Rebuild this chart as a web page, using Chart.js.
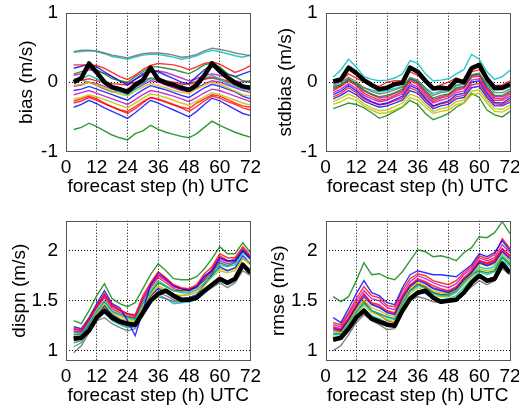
<!DOCTYPE html>
<html><head><meta charset="utf-8">
<script src="https://cdn.jsdelivr.net/npm/chart.js@4"></script>
<style>
html,body{margin:0;padding:0;background:#fff;}
#wrap{position:relative;width:519px;height:408px;overflow:hidden;background:#fff;}
canvas{position:absolute;left:0;top:0;}
</style></head><body>
<div id="wrap">
<canvas id="c1" width="519" height="408"></canvas>
<canvas id="c2" width="519" height="408"></canvas>
<canvas id="c3" width="519" height="408"></canvas>
<canvas id="c4" width="519" height="408"></canvas>
</div>
<script>
// forecast steps (h)
const steps = [3,6,9,12,15,18,21,24,27,30,33,36,39,42,45,48,51,54,57,60,63,66,69,72];
const xTicks = [0,12,24,36,48,60,72];
const topYTicks = [-1,0,1];
const botYTicks = [1,1.5,2];
const xTitle = 'forecast step (h) UTC';

const palette = {b:'rgba(0,0,255,0.8)', g:'rgba(0,128,0,0.8)', r:'rgba(255,0,0,0.8)', c:'rgba(0,191,191,0.85)', m:'rgba(191,0,191,0.8)', y:'rgba(191,191,0,0.85)', k:'rgba(110,110,110,0.85)'};

// ---- bias ----
const biasMean = [0.00,0.06,0.27,0.14,0.00,-0.07,-0.10,-0.14,-0.04,0.03,0.21,0.04,-0.01,-0.04,-0.08,-0.11,-0.04,0.10,0.27,0.16,0.07,-0.01,-0.06,-0.08];
const biasColors = ['k','c','r','g','b','m','c','r','y','b','m','y','r','b','g','k','r','m'];
const biasMembers = [
[0.44,0.46,0.46,0.45,0.42,0.39,0.37,0.35,0.38,0.41,0.42,0.42,0.41,0.39,0.36,0.37,0.40,0.45,0.49,0.47,0.45,0.42,0.40,0.38],
[0.43,0.44,0.45,0.44,0.41,0.37,0.35,0.33,0.36,0.39,0.40,0.40,0.38,0.36,0.33,0.35,0.38,0.43,0.46,0.44,0.41,0.38,0.36,0.39],
[0.25,0.25,0.25,0.24,0.20,0.14,0.08,0.04,0.10,0.18,0.24,0.27,0.26,0.25,0.22,0.18,0.22,0.27,0.29,0.26,0.20,0.14,0.18,0.24],
[0.12,0.15,0.20,0.18,0.12,0.05,0.02,0.00,0.08,0.15,0.22,0.22,0.20,0.18,0.15,0.12,0.18,0.25,0.28,0.22,0.12,0.08,0.02,0.00],
[0.20,0.23,0.26,0.22,0.15,0.08,0.02,-0.04,0.04,0.12,0.18,0.15,0.10,0.05,0.00,-0.02,0.08,0.18,0.25,0.20,0.12,0.08,0.12,0.16],
[0.10,0.12,0.18,0.16,0.13,0.08,0.02,-0.02,0.04,0.10,0.15,0.16,0.14,0.10,0.06,0.02,0.05,0.10,0.12,0.10,0.06,0.02,0.00,0.02],
[0.03,0.05,0.10,0.05,-0.02,-0.10,-0.14,-0.18,-0.10,-0.02,0.06,0.05,0.02,-0.02,-0.08,-0.10,-0.02,0.06,0.10,0.05,-0.02,-0.06,-0.10,-0.12],
[0.02,0.03,0.05,0.02,0.00,-0.02,-0.03,-0.04,0.00,0.03,0.06,0.04,0.02,0.00,-0.02,-0.03,0.00,0.04,0.07,0.05,0.02,-0.02,-0.05,-0.06],
[-0.05,-0.03,0.00,-0.04,-0.08,-0.13,-0.17,-0.20,-0.13,-0.07,-0.02,-0.05,-0.08,-0.12,-0.15,-0.16,-0.10,-0.04,0.00,-0.03,-0.08,-0.13,-0.18,-0.20],
[-0.12,-0.10,-0.06,-0.10,-0.14,-0.18,-0.22,-0.26,-0.18,-0.11,-0.05,-0.08,-0.11,-0.15,-0.19,-0.22,-0.15,-0.08,-0.03,-0.06,-0.10,-0.14,-0.20,-0.24],
[-0.18,-0.15,-0.12,-0.16,-0.20,-0.24,-0.28,-0.32,-0.25,-0.18,-0.12,-0.14,-0.17,-0.20,-0.24,-0.28,-0.22,-0.15,-0.10,-0.12,-0.16,-0.20,-0.24,-0.28],
[-0.24,-0.22,-0.18,-0.21,-0.25,-0.29,-0.33,-0.37,-0.30,-0.23,-0.17,-0.19,-0.22,-0.26,-0.30,-0.33,-0.27,-0.21,-0.15,-0.18,-0.22,-0.26,-0.30,-0.33],
[-0.30,-0.27,-0.22,-0.26,-0.31,-0.36,-0.40,-0.45,-0.38,-0.30,-0.22,-0.25,-0.29,-0.33,-0.37,-0.42,-0.35,-0.27,-0.20,-0.23,-0.28,-0.32,-0.37,-0.40],
[-0.36,-0.32,-0.26,-0.31,-0.37,-0.42,-0.47,-0.52,-0.44,-0.35,-0.26,-0.30,-0.35,-0.40,-0.45,-0.50,-0.42,-0.32,-0.23,-0.27,-0.33,-0.39,-0.45,-0.48],
[-0.68,-0.65,-0.59,-0.64,-0.70,-0.76,-0.80,-0.83,-0.74,-0.70,-0.62,-0.68,-0.72,-0.75,-0.78,-0.80,-0.74,-0.65,-0.56,-0.62,-0.67,-0.72,-0.76,-0.79],
[0.05,0.03,0.00,-0.05,-0.10,-0.14,-0.12,-0.10,-0.05,0.00,0.05,0.02,-0.02,-0.06,-0.04,-0.02,0.02,0.05,0.06,0.03,0.00,-0.04,-0.08,-0.10],
[-0.27,-0.24,-0.20,-0.24,-0.30,-0.35,-0.40,-0.42,-0.35,-0.28,-0.22,-0.24,-0.28,-0.32,-0.36,-0.38,-0.30,-0.24,-0.18,-0.20,-0.25,-0.30,-0.34,-0.36],
[-0.06,-0.04,0.00,-0.02,-0.06,-0.10,-0.14,-0.16,-0.10,-0.04,0.02,0.00,-0.04,-0.08,-0.12,-0.14,-0.08,-0.02,0.02,0.00,-0.04,-0.08,-0.12,-0.15]
];

// ---- stdbias ----
const stdbiasMean = [0.01,0.04,0.21,0.13,0.03,-0.04,-0.10,-0.08,-0.03,-0.01,0.21,0.15,0.02,-0.09,-0.08,-0.09,0.03,0.00,0.20,0.25,0.05,-0.08,-0.08,-0.03];
const stdbiasColors = ['c','k','g','r','m','b','r','b','y','y','r','c','m','g'];
const stdbiasMembers = [
[0.07,0.18,0.33,0.22,0.08,0.04,0.02,0.03,0.06,0.12,0.31,0.27,0.12,0.02,0.03,0.05,0.12,0.18,0.40,0.33,0.15,0.04,0.08,0.17],
[-0.05,0.00,0.07,0.01,-0.08,-0.13,-0.17,-0.15,-0.11,-0.07,0.07,0.03,-0.09,-0.19,-0.15,-0.13,-0.05,-0.03,0.11,0.13,-0.03,-0.15,-0.15,-0.10],
[-0.08,-0.03,0.05,-0.02,-0.11,-0.17,-0.21,-0.19,-0.15,-0.10,0.05,0.01,-0.12,-0.23,-0.19,-0.17,-0.08,-0.06,0.10,0.12,-0.06,-0.19,-0.19,-0.13],
[-0.12,-0.06,0.02,-0.05,-0.16,-0.21,-0.26,-0.24,-0.19,-0.14,0.02,-0.03,-0.17,-0.28,-0.23,-0.20,-0.12,-0.09,0.07,0.09,-0.10,-0.23,-0.24,-0.17],
[-0.15,-0.10,-0.02,-0.09,-0.19,-0.24,-0.28,-0.26,-0.21,-0.17,-0.02,-0.07,-0.20,-0.30,-0.26,-0.23,-0.15,-0.13,0.03,0.05,-0.13,-0.26,-0.26,-0.20],
[-0.18,-0.13,-0.05,-0.12,-0.22,-0.28,-0.32,-0.30,-0.25,-0.20,-0.05,-0.10,-0.23,-0.34,-0.30,-0.27,-0.18,-0.16,0.00,0.02,-0.16,-0.29,-0.30,-0.23],
[-0.21,-0.16,-0.08,-0.15,-0.24,-0.29,-0.33,-0.31,-0.27,-0.23,-0.08,-0.13,-0.25,-0.35,-0.31,-0.29,-0.21,-0.19,-0.04,-0.02,-0.19,-0.31,-0.32,-0.26],
[-0.24,-0.19,-0.12,-0.18,-0.27,-0.32,-0.36,-0.34,-0.30,-0.26,-0.12,-0.16,-0.28,-0.38,-0.34,-0.32,-0.24,-0.22,-0.08,-0.06,-0.22,-0.34,-0.34,-0.29],
[-0.28,-0.23,-0.17,-0.22,-0.31,-0.37,-0.41,-0.40,-0.35,-0.30,-0.17,-0.21,-0.32,-0.42,-0.38,-0.36,-0.28,-0.26,-0.13,-0.11,-0.26,-0.38,-0.39,-0.33],
[-0.32,-0.28,-0.22,-0.26,-0.34,-0.40,-0.45,-0.44,-0.40,-0.35,-0.22,-0.26,-0.36,-0.45,-0.42,-0.40,-0.32,-0.30,-0.18,-0.16,-0.30,-0.42,-0.43,-0.37],
[-0.02,0.02,0.12,0.06,0.00,-0.04,-0.06,0.00,0.02,0.02,0.15,0.10,0.00,-0.08,-0.04,0.00,0.06,0.02,0.15,0.18,0.03,-0.05,-0.04,0.02],
[-0.06,-0.04,0.03,-0.02,-0.08,-0.11,-0.14,-0.12,-0.09,-0.06,0.06,0.02,-0.08,-0.16,-0.13,-0.10,-0.04,-0.02,0.10,0.12,-0.02,-0.12,-0.11,-0.07],
[-0.10,-0.05,0.04,-0.03,-0.13,-0.18,-0.23,-0.21,-0.16,-0.12,0.04,-0.01,-0.14,-0.25,-0.21,-0.18,-0.10,-0.07,0.09,0.11,-0.08,-0.21,-0.21,-0.15],
[-0.38,-0.34,-0.30,-0.32,-0.37,-0.44,-0.52,-0.48,-0.42,-0.36,-0.26,-0.32,-0.45,-0.54,-0.50,-0.45,-0.36,-0.30,-0.16,-0.22,-0.40,-0.47,-0.50,-0.42]
];

// ---- dispn ----
const dispnMean = [1.12,1.13,1.20,1.33,1.40,1.33,1.29,1.27,1.26,1.38,1.50,1.57,1.60,1.55,1.51,1.51,1.53,1.60,1.66,1.72,1.68,1.72,1.86,1.78];
const dispnColors = ['g','r','b','m','c','y','k','g','r','b','c','m','y','k'];
const dispnMembers = [
[1.30,1.27,1.40,1.55,1.67,1.52,1.47,1.44,1.48,1.62,1.76,1.87,1.80,1.72,1.71,1.71,1.74,1.82,1.92,2.04,1.97,1.97,2.08,1.98],
[1.22,1.21,1.32,1.45,1.57,1.46,1.41,1.37,1.36,1.55,1.68,1.79,1.73,1.66,1.63,1.62,1.66,1.77,1.84,1.97,1.93,1.93,2.04,1.95],
[1.24,1.22,1.33,1.47,1.60,1.47,1.43,1.30,1.15,1.40,1.66,1.78,1.72,1.65,1.62,1.60,1.64,1.75,1.80,1.93,1.90,1.90,2.00,1.92],
[1.20,1.19,1.31,1.44,1.55,1.44,1.40,1.36,1.34,1.52,1.65,1.75,1.70,1.64,1.62,1.61,1.64,1.72,1.80,1.92,1.89,1.92,2.02,1.93],
[1.18,1.17,1.28,1.40,1.50,1.40,1.36,1.33,1.31,1.48,1.60,1.70,1.65,1.60,1.58,1.58,1.61,1.68,1.74,1.86,1.84,1.86,1.98,1.91],
[1.10,1.12,1.24,1.37,1.47,1.38,1.34,1.32,1.30,1.44,1.56,1.65,1.61,1.56,1.55,1.56,1.58,1.65,1.74,1.80,1.78,1.80,1.92,1.88],
[0.98,1.05,1.18,1.30,1.33,1.27,1.23,1.20,1.22,1.36,1.48,1.54,1.52,1.49,1.49,1.50,1.52,1.58,1.63,1.68,1.63,1.68,1.80,1.75],
[1.16,1.16,1.27,1.39,1.49,1.39,1.36,1.34,1.32,1.47,1.58,1.68,1.64,1.60,1.60,1.61,1.64,1.70,1.78,1.88,1.85,1.88,1.99,1.92],
[1.19,1.18,1.30,1.43,1.53,1.42,1.38,1.34,1.33,1.50,1.63,1.73,1.68,1.62,1.60,1.60,1.63,1.72,1.82,1.95,1.90,1.90,2.00,1.93],
[1.14,1.14,1.25,1.36,1.45,1.36,1.31,1.28,1.25,1.42,1.55,1.62,1.58,1.53,1.52,1.53,1.56,1.66,1.76,1.84,1.80,1.83,1.95,1.87],
[1.04,1.08,1.20,1.33,1.38,1.30,1.26,1.23,1.24,1.38,1.50,1.56,1.52,1.47,1.48,1.49,1.51,1.57,1.65,1.70,1.66,1.70,1.84,1.78],
[1.22,1.20,1.31,1.44,1.56,1.45,1.40,1.37,1.35,1.53,1.66,1.76,1.71,1.64,1.62,1.61,1.64,1.74,1.79,1.90,1.87,1.89,2.01,1.94],
[1.12,1.12,1.23,1.35,1.44,1.36,1.32,1.30,1.29,1.43,1.54,1.63,1.60,1.56,1.55,1.57,1.60,1.67,1.76,1.82,1.80,1.82,1.92,1.86],
[1.08,1.10,1.21,1.33,1.40,1.32,1.28,1.24,1.24,1.38,1.51,1.58,1.55,1.51,1.50,1.51,1.53,1.60,1.67,1.73,1.69,1.72,1.85,1.79]
];

// ---- rmse ----
const rmseMean = [1.11,1.13,1.22,1.33,1.40,1.32,1.29,1.26,1.25,1.40,1.52,1.58,1.60,1.53,1.49,1.50,1.51,1.58,1.68,1.75,1.70,1.72,1.87,1.78];
const rmseColors = ['b','r','m','r','b','y','m','c','g','y','c','k','r','g'];
const rmseMembers = [
[1.33,1.28,1.42,1.57,1.70,1.58,1.55,1.48,1.46,1.63,1.76,1.80,1.78,1.76,1.76,1.75,1.74,1.80,1.86,1.97,1.94,1.98,2.10,2.00],
[1.28,1.26,1.38,1.52,1.64,1.55,1.53,1.45,1.44,1.60,1.72,1.77,1.75,1.70,1.68,1.66,1.70,1.78,1.84,1.95,1.92,1.96,2.12,2.02],
[1.26,1.24,1.36,1.49,1.60,1.52,1.50,1.43,1.41,1.56,1.69,1.75,1.72,1.68,1.65,1.63,1.67,1.76,1.82,1.93,1.90,1.93,2.06,1.98],
[1.24,1.22,1.33,1.46,1.57,1.48,1.46,1.40,1.38,1.54,1.66,1.72,1.69,1.65,1.62,1.60,1.64,1.73,1.80,1.90,1.87,1.90,2.02,1.95],
[1.22,1.20,1.31,1.44,1.54,1.46,1.43,1.38,1.36,1.52,1.64,1.70,1.67,1.62,1.60,1.58,1.62,1.71,1.78,1.88,1.85,1.88,1.99,1.92],
[1.19,1.18,1.29,1.41,1.51,1.43,1.40,1.36,1.34,1.50,1.62,1.68,1.65,1.60,1.58,1.57,1.61,1.70,1.77,1.87,1.85,1.86,1.97,1.90],
[1.23,1.21,1.32,1.45,1.56,1.47,1.44,1.39,1.37,1.53,1.65,1.71,1.68,1.63,1.61,1.59,1.63,1.72,1.79,1.89,1.86,1.89,2.00,1.93],
[1.16,1.16,1.27,1.38,1.47,1.40,1.37,1.33,1.31,1.47,1.59,1.65,1.62,1.57,1.55,1.55,1.59,1.68,1.75,1.84,1.82,1.84,1.95,1.88],
[1.17,1.17,1.28,1.39,1.48,1.40,1.37,1.34,1.32,1.48,1.60,1.66,1.63,1.58,1.56,1.56,1.60,1.69,1.76,1.80,1.78,1.80,1.93,1.86],
[1.14,1.14,1.25,1.36,1.45,1.38,1.35,1.31,1.29,1.45,1.57,1.63,1.60,1.55,1.54,1.54,1.58,1.66,1.73,1.82,1.80,1.82,1.93,1.87],
[1.10,1.12,1.23,1.34,1.42,1.35,1.32,1.28,1.26,1.42,1.54,1.60,1.57,1.52,1.51,1.52,1.55,1.63,1.71,1.79,1.76,1.79,1.90,1.84],
[1.00,1.05,1.16,1.28,1.36,1.30,1.26,1.21,1.22,1.38,1.50,1.54,1.52,1.49,1.48,1.49,1.52,1.58,1.64,1.70,1.66,1.70,1.82,1.76],
[1.20,1.19,1.30,1.42,1.50,1.40,1.36,1.30,1.28,1.46,1.60,1.67,1.64,1.58,1.56,1.56,1.60,1.69,1.78,1.90,1.88,1.91,2.02,1.95],
[1.54,1.49,1.54,1.70,1.88,1.76,1.77,1.73,1.71,1.79,1.90,2.01,1.99,1.94,1.95,1.93,1.90,1.98,2.03,2.14,2.13,2.18,2.29,2.17]
];

const FONT = {family:"'Liberation Sans', Arial, Helvetica, sans-serif", size:19, weight:'normal'};
const W = 519, H = 408, YW = 66, XH = 47;

const framePlugin = {
  id:'frame',
  afterDatasetsDraw(chart){
    const {ctx, chartArea:a} = chart;
    ctx.save();
    ctx.strokeStyle = '#555';
    ctx.lineWidth = 1;
    ctx.strokeRect(Math.round(a.left)+0.5, Math.round(a.top)+0.5, Math.round(a.right-a.left)-1, Math.round(a.bottom-a.top)-1);
    ctx.restore();
  }
};

function makePanel(id, title, mean, members, colors, yMin, yMax, yTicks, area, titlePad){
  const datasets = [{data: mean.map((v,i)=>({x:steps[i], y:v})), borderColor:'#000', borderWidth:4.5, pointRadius:0, tension:0, borderJoinStyle:'round'}];
  members.forEach((m,k)=>{
    datasets.push({data: m.map((v,i)=>({x:steps[i], y:v})), borderColor: palette[colors[k]], borderWidth:1.4, pointRadius:0, tension:0});
  });
  const edge = (v, lo, hi) => Math.abs(v-lo)<1e-9 || Math.abs(v-hi)<1e-9;
  new Chart(document.getElementById(id), {
    type:'line',
    data:{datasets},
    options:{
      responsive:false, animation:false, devicePixelRatio:1,
      layout:{padding:{left:area.left-YW, right:W-area.right, top:area.top, bottom:H-area.bottom-XH}},
      plugins:{legend:{display:false}, tooltip:{enabled:false}},
      scales:{
        x:{type:'linear', min:0, max:72,
          afterBuildTicks:s=>{s.ticks = xTicks.map(v=>({value:v}));},
          afterFit:s=>{s.height = XH; s.paddingLeft = 0; s.paddingRight = 0;},
          ticks:{font:FONT, color:'#000', padding:5, maxRotation:0, autoSkip:false, callback:v=>String(v)},
          grid:{drawTicks:false, lineWidth:1, color:ctx=> (ctx.tick && edge(ctx.tick.value,0,72)) ? 'rgba(0,0,0,0)' : '#000'},
          border:{display:false, dash:[1,2]},
          title:{display:true, text:xTitle, font:FONT, color:'#000', padding:{top:0, bottom:1}}
        },
        y:{type:'linear', min:yMin, max:yMax,
          afterBuildTicks:s=>{s.ticks = yTicks.map(v=>({value:v}));},
          afterFit:s=>{s.width = YW; s.paddingTop = 0; s.paddingBottom = 0;},
          ticks:{font:FONT, color:'#000', padding:8, callback:v=>String(v)},
          grid:{drawTicks:false, lineWidth:1, color:ctx=> (ctx.tick && edge(ctx.tick.value,yMin,yMax)) ? 'rgba(0,0,0,0)' : '#000'},
          border:{display:false, dash:[1,2]},
          title:{display:true, text:title, font:FONT, color:'#000', padding:{top:titlePad, bottom:0}}
        }
      }
    },
    plugins:[framePlugin]
  });
}

makePanel('c1','bias (m/s)', biasMean, biasMembers, biasColors, -1, 1, topYTicks, {left:66, right:250.5, top:12.7, bottom:151.7}, 15);
makePanel('c2','stdbias (m/s)', stdbiasMean, stdbiasMembers, stdbiasColors, -1, 1, topYTicks, {left:325.5, right:510, top:12.7, bottom:151.7}, 15);
makePanel('c3','dispn (m/s)', dispnMean, dispnMembers, dispnColors, 0.9, 2.3, botYTicks, {left:66, right:250.5, top:220.7, bottom:360.7}, 8);
makePanel('c4','rmse (m/s)', rmseMean, rmseMembers, rmseColors, 0.9, 2.3, botYTicks, {left:325.5, right:510, top:220.7, bottom:360.7}, 8);
</script>
</body></html>
